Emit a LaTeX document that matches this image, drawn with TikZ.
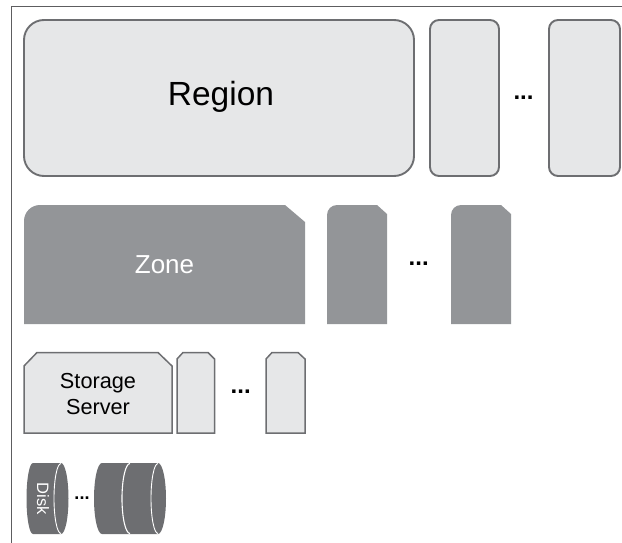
\documentclass[tikz,border=0pt]{standalone}
\usepackage{fontspec}
\setmainfont{Liberation Sans}
\definecolor{lightfill}{HTML}{E6E7E8}
\definecolor{edgegrey}{HTML}{6D6E71}
\definecolor{midgrey}{HTML}{939598}
\definecolor{darkgrey}{HTML}{6D6E71}
\tikzset{
  lightbox/.style={fill=lightfill,draw=edgegrey,line width=1.9pt},
  midbox/.style={fill=midgrey},
  frameline/.style={draw=edgegrey!85!black,line width=1.7pt},
  dotsmark/.style={font=\bfseries\fontsize{24}{24}\selectfont,inner sep=0pt,text=black,anchor=base},
  diskbody/.style={fill=darkgrey},
  diskedge/.style={draw=white,line width=0.9pt}
}
\begin{document}
\begin{tikzpicture}[x=1pt,y=-1pt]
\useasboundingbox (0,0) rectangle (622,543);
\draw[frameline] (622,6.5) -- (11.5,6.5) -- (11.5,543);
% Region row
\draw[lightbox,rounded corners=20pt] (24,20) rectangle (414,176);
\draw[lightbox,rounded corners=9pt] (430,20) rectangle (499,176);
\draw[lightbox,rounded corners=9pt] (549,20) rectangle (620,176);
\node[font=\fontsize{33.5}{36}\selectfont] (region) at (221,97) {Region};
\node[dotsmark] (dots1) at (523.5,99.5) {...};
% Zone row
\fill[midbox] (24,324) -- (24,221) arc[start angle=180,end angle=270,radius=16] -- (285,205) -- (305,222) -- (305,324) -- cycle;
\fill[midbox] (327,324) -- (327,215) arc[start angle=180,end angle=270,radius=10] -- (377,205) -- (387,214) -- (387,324) -- cycle;
\fill[midbox] (451,324) -- (451,215) arc[start angle=180,end angle=270,radius=10] -- (501,205) -- (511,214) -- (511,324) -- cycle;
\node[text=white,font=\fontsize{26}{28}\selectfont] (zone) at (164.5,265) {Zone};
\node[dotsmark] (dots2) at (418.7,265.5) {...};
% Storage row
\draw[lightbox,line width=1.5pt] (24,433) -- (24,366) -- (37,352.5) -- (158,352.5) -- (172,366) -- (172,433) -- cycle;
\draw[lightbox,line width=1.5pt] (177,433) -- (177,359) -- (183,352.5) -- (208,352.5) -- (214.5,359) -- (214.5,433) -- cycle;
\draw[lightbox,line width=1.5pt] (266,433) -- (266,359) -- (272,352.5) -- (298,352.5) -- (305,359) -- (305,433) -- cycle;
\node[align=center,font=\fontsize{21.7}{26.5}\selectfont] (storage) at (98,394) {Storage\\Server};
\node[dotsmark] (dots3) at (240.7,393.8) {...};
% Disks
\fill[diskbody] (33,463) -- (61,463) arc[start angle=-90,end angle=90,x radius=7.5,y radius=35.5] -- (33,534) arc[start angle=90,end angle=270,x radius=6.5,y radius=35.5] -- cycle;
\draw[diskedge] (61,463.5) arc[start angle=270,end angle=90,x radius=7,y radius=35];
\node[rotate=-90,text=white,inner sep=0pt,font=\fontsize{16.5}{16.5}\selectfont] (disk) at (43,498.5) {Disk};
\node[dotsmark,font=\bfseries\fontsize{18}{18}\selectfont] (dots4) at (82,499.3) {...};
\fill[diskbody] (102,463) -- (158,463) arc[start angle=-90,end angle=90,x radius=8,y radius=35.5] -- (102,534) arc[start angle=90,end angle=270,x radius=8,y radius=35.5] -- cycle;
\draw[diskedge,line width=1.1pt] (130,463.5) arc[start angle=270,end angle=90,x radius=8,y radius=35];
\draw[diskedge] (158,463.5) arc[start angle=270,end angle=90,x radius=7,y radius=35];
\end{tikzpicture}
\end{document}
